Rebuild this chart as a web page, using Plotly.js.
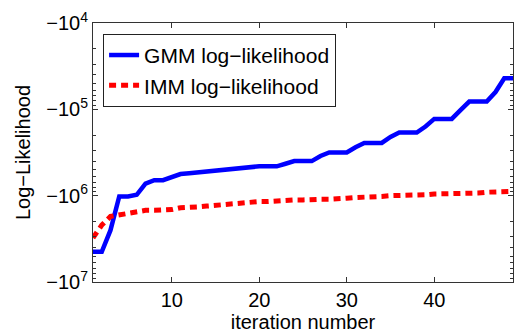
<!DOCTYPE html>
<html>
<head>
<meta charset="utf-8">
<script src="https://cdn.plot.ly/plotly-3.0.1.min.js"></script>
<style>html,body{margin:0;padding:0;background:#fff;}#chart{width:514px;height:335px;}</style>
</head>
<body>
<div id="chart"></div>
<script>
// iteration numbers
const iterations = [1,2,3,4,5,6,7,8,9,10,11,12,13,14,15,16,17,18,19,20,21,22,23,24,25,26,27,28,29,30,31,32,33,34,35,36,37,38,39,40,41,42,43,44,45,46,47,48,49];
// GMM log-likelihood (negative values)
const gmmLogLik = [-4470000,-4470000,-2510000,-1020000,-1020000,-977000,-724000,-661000,-661000,-617000,
  -562000,-550000,-537000,-525000,-513000,-501000,-501000,-490000,-479000,-457000,
  -457000,-457000,-427000,-398000,-398000,-398000,-347000,-316000,-316000,-316000,
  -275000,-245000,-245000,-245000,-209000,-186000,-186000,-186000,-158000,-129000,
  -129000,-129000,-102000,-81300,-81300,-81300,-63100,-43700,-43700];
// IMM log-likelihood (negative values)
const immLogLik = [-3090000,-2190000,-1740000,-1660000,-1620000,-1510000,-1480000,-1480000,-1480000,-1450000,
  -1380000,-1380000,-1350000,-1320000,-1290000,-1290000,-1260000,-1230000,-1200000,-1170000,
  -1170000,-1150000,-1120000,-1120000,-1120000,-1100000,-1100000,-1100000,-1070000,-1070000,
  -1050000,-1050000,-1020000,-1020000,-1000000,-1000000,-1000000,-977000,-977000,-955000,
  -955000,-955000,-933000,-933000,-933000,-912000,-912000,-891000,-891000];
const xTicks = [10,20,30,40];
const yTickVals = [1e4,1e5,1e6,1e7];
const yTickText = ['\u221210<sup>4</sup>','\u221210<sup>5</sup>','\u221210<sup>6</sup>','\u221210<sup>7</sup>'];

// the axis shows magnitude on a reversed log scale, labelled as negative
const neg = a => a.map(v => -v);
const minorVals = [];
[4,5,6].forEach(e => { for (let d = 2; d <= 9; d++) minorVals.push(d * Math.pow(10, e)); });

const fam = '"Liberation Sans", Arial, Helvetica, sans-serif';
const font = {family: fam, color: '#000', size: 20};
const legFont = {family: fam, color: '#000', size: 21};

const traces = [
  {x: iterations, y: neg(gmmLogLik), name: 'GMM log\u2212likelihood', mode: 'lines',
   line: {color: '#0000FF', width: 4.5}},
  {x: iterations, y: neg(immLogLik), name: 'IMM log\u2212likelihood', mode: 'lines',
   line: {color: '#FF0000', width: 5, dash: '7px,5px'}}
];

const layout = {
  width: 514, height: 335,
  margin: {l: 93, r: 1, t: 23, b: 53},
  paper_bgcolor: '#fff', plot_bgcolor: '#fff',
  font: font,
  showlegend: true,
  legend: {x: 0.024, y: 0.958, xanchor: 'left', yanchor: 'top',
    bgcolor: '#fff', bordercolor: '#222', borderwidth: 1, font: legFont},
  xaxis: {
    range: [1, 49], tickmode: 'array', tickvals: xTicks,
    ticks: 'inside', ticklen: 5, tickcolor: '#333', tickwidth: 1,
    showline: true, linecolor: '#333', linewidth: 1, mirror: 'ticks',
    showgrid: false, zeroline: false,
    title: {text: 'iteration number', font: font, standoff: 0},
    tickfont: font
  },
  yaxis: {
    type: 'log', range: [7, 4], autorange: false,
    tickmode: 'array', tickvals: yTickVals, ticktext: yTickText,
    ticks: 'inside', ticklen: 5, tickcolor: '#333', tickwidth: 1,
    minor: {tickmode: 'array', tickvals: minorVals, ticks: 'inside', ticklen: 3, tickcolor: '#333', showgrid: false},
    showline: true, linecolor: '#333', linewidth: 1, mirror: 'ticks',
    showgrid: false, zeroline: false,
    title: {text: 'Log\u2212Likelihood', font: font, standoff: 10},
    tickfont: font
  }
};

Plotly.newPlot('chart', traces, layout, {displayModeBar: false, staticPlot: true});
</script>
</body>
</html>
